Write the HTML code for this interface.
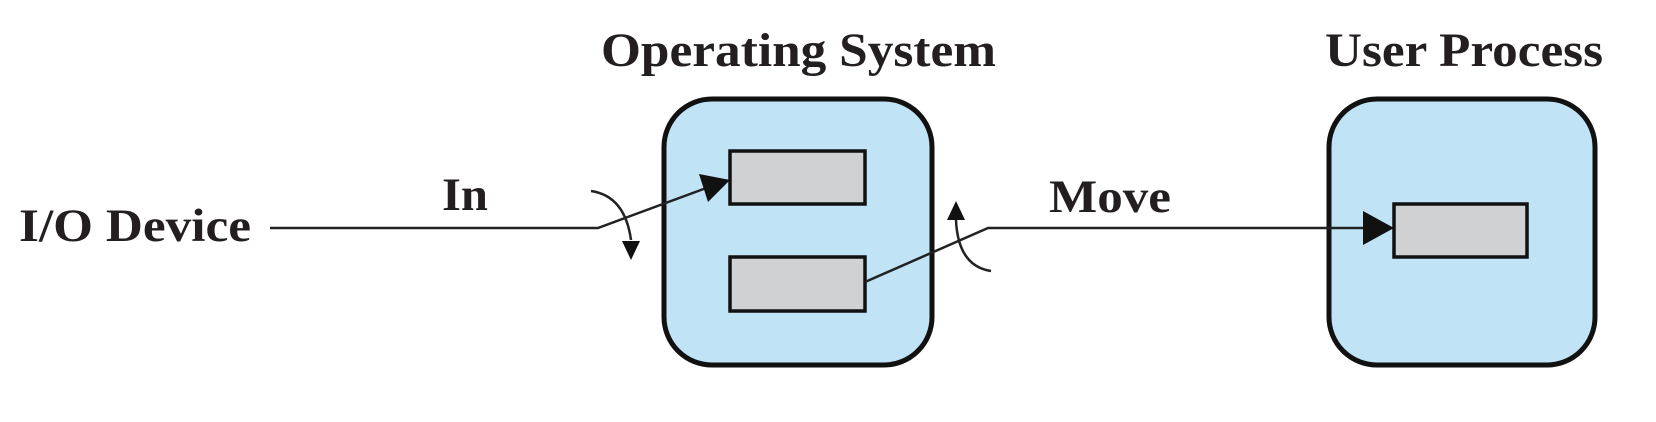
<!DOCTYPE html>
<html><head><meta charset="utf-8"><style>
html,body{margin:0;padding:0;background:#fff;}
svg{display:block}
text{font-family:"Liberation Serif",serif;font-weight:bold;fill:#231f20;}
</style></head><body>
<svg width="1656" height="422" viewBox="0 0 1656 422" xmlns="http://www.w3.org/2000/svg">
<text x="19" y="241" font-size="47" textLength="232" lengthAdjust="spacingAndGlyphs">I/O Device</text>
<text x="442" y="210" font-size="47" textLength="46" lengthAdjust="spacingAndGlyphs">In</text>
<text x="1049" y="212" font-size="47" textLength="122" lengthAdjust="spacingAndGlyphs">Move</text>
<text x="601" y="66" font-size="48" textLength="395" lengthAdjust="spacingAndGlyphs">Operating System</text>
<text x="1325" y="66" font-size="48" textLength="278" lengthAdjust="spacingAndGlyphs">User Process</text>
<rect x="664" y="99" width="268" height="266" rx="48" fill="#c1e3f6" stroke="#111" stroke-width="5"/>
<rect x="1329" y="99" width="266" height="266" rx="48" fill="#c1e3f6" stroke="#111" stroke-width="5"/>
<rect x="730" y="151" width="135" height="53" fill="#d0d1d3" stroke="#111" stroke-width="3.5"/>
<rect x="730" y="257" width="135" height="54" fill="#d0d1d3" stroke="#111" stroke-width="3.5"/>
<rect x="1394" y="204" width="133" height="53" fill="#d0d1d3" stroke="#111" stroke-width="3.5"/>
<g stroke="#222" stroke-width="2.5" fill="none">
<polyline points="270,228 598,228 709,187"/>
<polyline points="865,282 988,228 1365,228"/>
<path d="M591,191 Q625,196 631,240"/>
<path d="M991,271 Q958,266 956,220"/>
</g>
<g fill="#111">
<polygon points="730,180 708,202 699,174"/>
<polygon points="1394,228 1363,211 1363,245"/>
<polygon points="631,260 622,241 640,241"/>
<polygon points="956,201 947,220 965,220"/>
</g>
</svg>
</body></html>
